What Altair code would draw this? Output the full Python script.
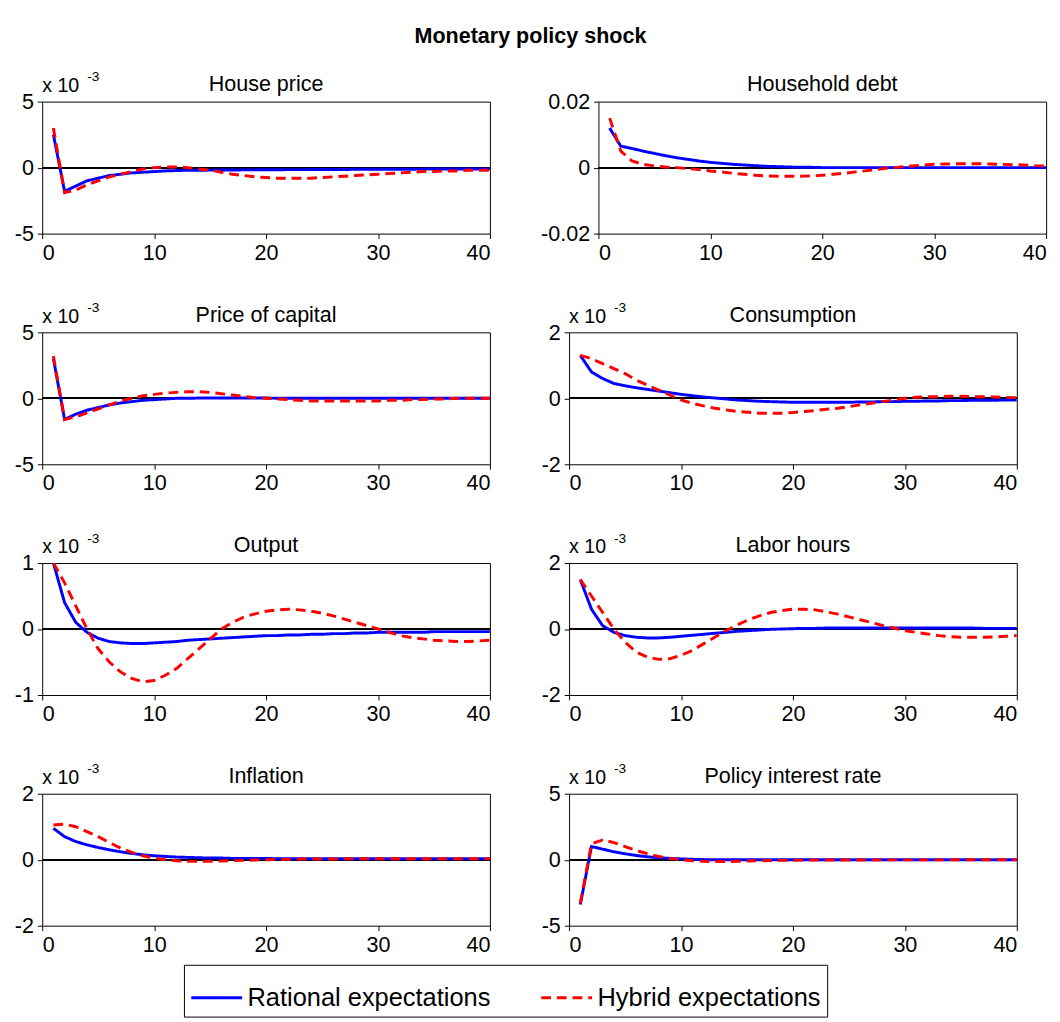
import altair as alt
import pandas as pd

PERIODS = list(range(1, 41))
SERIES = ['Rational expectations', 'Hybrid expectations']
SERIES_COLORS = ['#0000ff', '#ff0000']

house_re = [2.5, -1.8, -1.4, -1.0, -0.8, -0.6, -0.5, -0.4, -0.35, -0.3, -0.25, -0.22, -0.2, -0.2, -0.19, -0.18, -0.18, -0.17,
            -0.17, -0.16, -0.16, -0.15, -0.15, -0.15, -0.14, -0.14, -0.14, -0.13, -0.13, -0.13, -0.12, -0.12, -0.12, -0.11,
            -0.11, -0.11, -0.1, -0.1, -0.1, -0.1]
house_hy = [3.0, -1.9, -1.7, -1.3, -1.0, -0.7, -0.5, -0.3, -0.1, 0.0, 0.05, 0.05, 0.0, -0.1, -0.2, -0.35, -0.5, -0.6, -0.7,
            -0.75, -0.8, -0.8, -0.8, -0.8, -0.75, -0.7, -0.65, -0.6, -0.55, -0.5, -0.45, -0.4, -0.35, -0.3, -0.3, -0.25,
            -0.25, -0.2, -0.2, -0.2]
debt_re = [0.012, 0.0065, 0.0058, 0.005, 0.0043, 0.0036, 0.003, 0.0025, 0.002, 0.0016, 0.0013, 0.001, 0.0008, 0.0006,
           0.0004, 0.0003, 0.0002, 0.0001, 0.0001, 0.0, 0.0, 0.0, 0.0, 0.0, 0.0, 0.0, 0.0, 0.0, 0.0, 0.0, 0.0, 0.0, 0.0,
           0.0, 0.0, 0.0, 0.0, 0.0, 0.0, 0.0]
debt_hy = [0.015, 0.005, 0.002, 0.001, 0.0005, 0.0002, 0.0, -0.0003, -0.0006, -0.001, -0.0013, -0.0017, -0.002, -0.0023,
           -0.0025, -0.0026, -0.0026, -0.0026, -0.0025, -0.0023, -0.002, -0.0017, -0.0013, -0.0009, -0.0005, -0.0001,
           0.0002, 0.0005, 0.0008, 0.001, 0.0011, 0.0012, 0.0012, 0.0012, 0.0011, 0.001, 0.0009, 0.0008, 0.0006, 0.0005]
capital_re = [3.0, -1.6, -1.2, -0.9, -0.7, -0.5, -0.35, -0.25, -0.15, -0.1, -0.05, 0.0, 0.0, 0.02, 0.02, 0.02, 0.02, 0.02,
              0.02, 0.02, 0.01, 0.01, 0.01, 0.01, 0.01, 0.01, 0.0, 0.0, 0.0, 0.0, 0.0, 0.0, 0.0, 0.0, 0.0, 0.0, 0.0,
              0.0, 0.0, 0.0]
capital_hy = [3.2, -1.6, -1.4, -1.1, -0.8, -0.5, -0.2, 0.0, 0.2, 0.3, 0.4, 0.45, 0.5, 0.5, 0.45, 0.35, 0.25, 0.15, 0.05,
              0.0, -0.05, -0.1, -0.15, -0.2, -0.2, -0.2, -0.2, -0.2, -0.2, -0.2, -0.15, -0.15, -0.1, -0.1, -0.05, -0.05,
              0.0, 0.0, 0.0, 0.0]
cons_re = [1.3, 0.8, 0.6, 0.45, 0.38, 0.32, 0.27, 0.22, 0.17, 0.12, 0.08, 0.04, 0.01, -0.02, -0.05, -0.07, -0.09, -0.1,
           -0.11, -0.12, -0.12, -0.12, -0.12, -0.12, -0.12, -0.11, -0.11, -0.1, -0.1, -0.09, -0.09, -0.08, -0.08, -0.07,
           -0.07, -0.06, -0.06, -0.06, -0.05, -0.05]
cons_hy = [1.3, 1.2, 1.05, 0.9, 0.75, 0.55, 0.4, 0.25, 0.1, -0.05, -0.15, -0.23, -0.3, -0.35, -0.4, -0.42, -0.45, -0.45,
           -0.45, -0.43, -0.4, -0.37, -0.33, -0.3, -0.25, -0.2, -0.15, -0.1, -0.05, 0.0, 0.03, 0.05, 0.05, 0.06, 0.06,
           0.05, 0.05, 0.04, 0.03, 0.02]
output_re = [1.0, 0.4, 0.1, -0.05, -0.14, -0.19, -0.21, -0.22, -0.22, -0.21, -0.2, -0.19, -0.17, -0.16, -0.15, -0.14,
             -0.13, -0.12, -0.11, -0.1, -0.1, -0.09, -0.09, -0.08, -0.08, -0.07, -0.07, -0.06, -0.06, -0.05, -0.05,
             -0.05, -0.05, -0.05, -0.04, -0.04, -0.04, -0.04, -0.04, -0.04]
output_hy = [1.0, 0.7, 0.35, 0.0, -0.3, -0.5, -0.65, -0.75, -0.8, -0.78, -0.7, -0.6, -0.45, -0.3, -0.15, 0.0, 0.1, 0.18,
             0.23, 0.27, 0.29, 0.3, 0.29, 0.27, 0.24, 0.2, 0.15, 0.1, 0.05, 0.0, -0.05, -0.1, -0.13, -0.15, -0.17, -0.18,
             -0.19, -0.19, -0.18, -0.17]
labor_re = [1.5, 0.6, 0.1, -0.1, -0.2, -0.25, -0.27, -0.27, -0.25, -0.22, -0.19, -0.16, -0.13, -0.1, -0.07, -0.05, -0.03,
            -0.01, 0.0, 0.01, 0.02, 0.02, 0.03, 0.03, 0.03, 0.03, 0.03, 0.03, 0.03, 0.03, 0.03, 0.03, 0.03, 0.03, 0.03,
            0.03, 0.02, 0.02, 0.02, 0.02]
labor_hy = [1.5, 1.0, 0.5, 0.0, -0.4, -0.7, -0.85, -0.92, -0.9, -0.8, -0.65, -0.45, -0.25, -0.05, 0.12, 0.28, 0.4, 0.5,
            0.56, 0.6, 0.6, 0.58, 0.52, 0.45, 0.37, 0.28, 0.2, 0.11, 0.03, -0.05, -0.1, -0.15, -0.2, -0.23, -0.25, -0.25,
            -0.25, -0.24, -0.22, -0.2]
infl_re = [0.95, 0.7, 0.55, 0.45, 0.37, 0.3, 0.24, 0.19, 0.15, 0.12, 0.1, 0.08, 0.07, 0.06, 0.05, 0.05, 0.04, 0.04, 0.04,
           0.04, 0.03, 0.03, 0.03, 0.03, 0.03, 0.03, 0.03, 0.03, 0.03, 0.03, 0.03, 0.03, 0.03, 0.03, 0.03, 0.03, 0.03,
           0.03, 0.03, 0.03]
infl_hy = [1.05, 1.08, 1.0, 0.85, 0.7, 0.52, 0.35, 0.22, 0.12, 0.05, 0.0, -0.03, -0.05, -0.05, -0.05, -0.04, -0.03, -0.02,
           -0.01, 0.0, 0.01, 0.01, 0.02, 0.02, 0.02, 0.02, 0.03, 0.03, 0.03, 0.03, 0.03, 0.03, 0.03, 0.03, 0.03, 0.03,
           0.03, 0.03, 0.03, 0.03]
rate_re = [-3.4, 1.0, 0.8, 0.6, 0.45, 0.32, 0.22, 0.15, 0.1, 0.06, 0.03, 0.01, 0.0, 0.0, 0.0, 0.0, 0.0, 0.0, 0.0, 0.0,
           0.0, 0.0, 0.0, 0.0, 0.0, 0.0, 0.0, 0.0, 0.0, 0.0, 0.0, 0.0, 0.0, 0.0, 0.0, 0.0, 0.0, 0.0, 0.0, 0.0]
rate_hy = [-3.3, 1.2, 1.5, 1.3, 1.0, 0.7, 0.45, 0.25, 0.1, 0.0, -0.08, -0.12, -0.14, -0.14, -0.12, -0.1, -0.08, -0.06,
           -0.05, -0.04, -0.03, -0.03, -0.02, -0.02, -0.02, -0.02, -0.02, -0.01, -0.01, -0.01, -0.01, -0.01, -0.01,
           -0.01, 0.0, 0.0, 0.0, 0.0, 0.0, 0.0]

# (title, rational, hybrid, y ticks, scaled by 1e-3?)
PANELS = [
    ('House price', house_re, house_hy, [-5, 0, 5], True),
    ('Household debt', debt_re, debt_hy, [-0.02, 0, 0.02], False),
    ('Price of capital', capital_re, capital_hy, [-5, 0, 5], True),
    ('Consumption', cons_re, cons_hy, [-2, 0, 2], True),
    ('Output', output_re, output_hy, [-1, 0, 1], True),
    ('Labor hours', labor_re, labor_hy, [-2, 0, 2], True),
    ('Inflation', infl_re, infl_hy, [-2, 0, 2], True),
    ('Policy interest rate', rate_re, rate_hy, [-5, 0, 5], True),
]

FONT = 'Liberation Sans'
W, H = 458, 135
ONE = pd.DataFrame({'k': [0]})
LEGEND = alt.Legend(title=None, orient='none', direction='horizontal', legendX=145, legendY=883)


def label_text(text, x, y, size, align='left'):
    return alt.Chart(ONE).mark_text(align=align, baseline='bottom', fontSize=size, font=FONT,
                                    color='black').encode(x=alt.value(x), y=alt.value(y), text=alt.value(text))


def make_panel(title, re_vals, hy_vals, ticks, scaled):
    df = pd.concat([
        pd.DataFrame({'t': PERIODS, 'v': re_vals, 'series': SERIES[0]}),
        pd.DataFrame({'t': PERIODS, 'v': hy_vals, 'series': SERIES[1]}),
    ])
    fmt = '.2~f' if not scaled else '~g'
    base = alt.Chart(df)
    zero = base.mark_rule(color='black', strokeWidth=0.8).encode(y=alt.datum(0))
    lines = base.mark_line(strokeWidth=3, clip=True).encode(
        x=alt.X('t:Q', scale=alt.Scale(domain=[0, 40]), axis=alt.Axis(values=[0, 10, 20, 30, 40]), title=None),
        y=alt.Y('v:Q', scale=alt.Scale(domain=[ticks[0], ticks[2]]),
                axis=alt.Axis(values=ticks, format=fmt, labelOverlap=False,
                              labelExpr="datum.value == 0 ? '0' : replace(datum.label, '\u2212', '-')"),
                title=None),
        color=alt.Color('series:N', scale=alt.Scale(domain=SERIES, range=SERIES_COLORS), legend=LEGEND),
        strokeDash=alt.StrokeDash('series:N', scale=alt.Scale(domain=SERIES, range=[[1, 0], [10, 6]]),
                                  legend=LEGEND),
    )
    layers = [zero, lines, label_text(title, W / 2, -6, 22, align='center')]
    if scaled:
        layers.append(label_text('x 10', 0, -6, 20))
        layers.append(label_text('-3', 46, -18, 14))
    return alt.layer(*layers).properties(width=W, height=H)


panels = [make_panel(*p) for p in PANELS]
rows = [alt.hconcat(panels[i], panels[i + 1], spacing=50) for i in range(0, 8, 2)]

chart = alt.vconcat(*rows, spacing=37).properties(
    title=alt.TitleParams('Monetary policy shock', fontSize=22, font=FONT, fontWeight='bold', anchor='middle',
                          offset=23)
).resolve_scale(color='shared', strokeDash='shared').configure_view(
    stroke='black', strokeWidth=1
).configure_axis(
    labelFontSize=22, labelFont=FONT, labelColor='black', grid=False, domain=False,
    tickColor='black', tickSize=5, labelPadding=4
).configure_legend(
    labelFontSize=26, labelFont=FONT, strokeColor='black', padding=6, symbolType='stroke',
    symbolStrokeWidth=3, symbolSize=2700, columnPadding=45, labelLimit=400, labelOffset=4
)

chart.save("out.html", embed_options={"renderer": "svg", "actions": False})
